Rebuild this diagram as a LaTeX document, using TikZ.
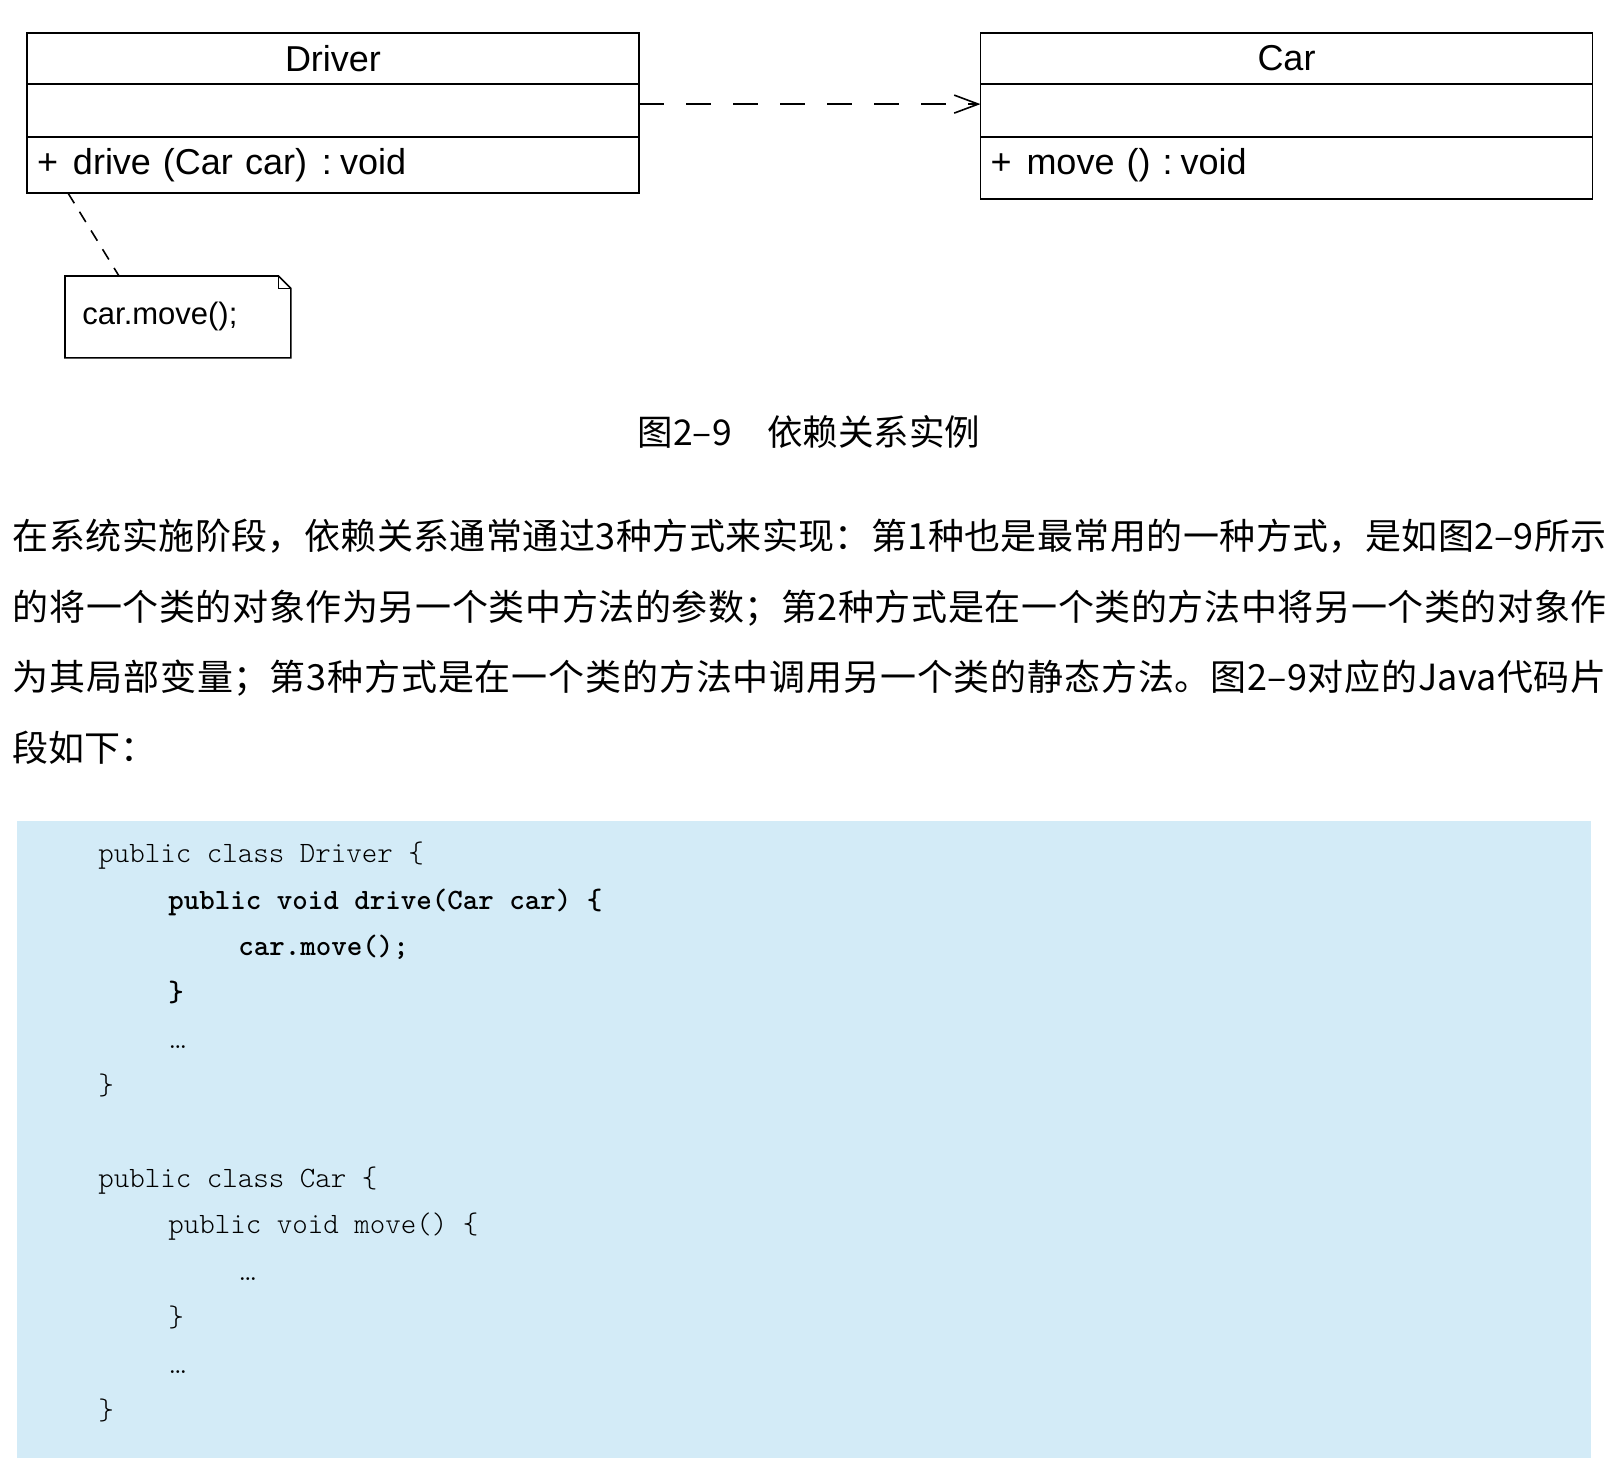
\documentclass[tikz,border=0pt]{standalone}
\usepackage{fontspec}
\newfontfamily\umlfont{Liberation Sans}
\newfontfamily\cjk{Noto Sans CJK SC}
\usetikzlibrary{positioning,arrows.meta}
\XeTeXlinebreaklocale "zh"
\XeTeXlinebreakskip=0pt plus 2pt
\definecolor{codebg}{RGB}{211,235,247}
\tikzset{
  umlpart/.style={draw, line width=0.8pt, minimum width=306pt, outer sep=0pt,
    inner sep=0pt, font=\umlfont\fontsize{18}{20}\selectfont},
  umlops/.style={umlpart, text width=296pt, inner xsep=5pt, align=left},
  notebox/.style={inner sep=0pt, inner xsep=8.5pt, text width=95.5pt,
    minimum height=40.5pt, align=left, font=\umlfont\fontsize{15.5}{17}\selectfont},
  depline/.style={line width=0.8pt, dash pattern=on 12.5pt off 11pt},
  noteline/.style={line width=0.8pt, dash pattern=on 6pt off 5pt},
  code/.style={anchor=base west, inner sep=0pt,
    font=\ttfamily\fontseries{l}\fontsize{14.76}{16}\selectfont},
  codebold/.style={code, font=\ttfamily\bfseries\fontsize{14.76}{16}\selectfont}
}

\begin{document}
\begin{tikzpicture}[x=0.5pt, y=-0.5pt]
  % PAGE
  \useasboundingbox (0,0) rectangle (1614,1458);

  % CLASS DRIVER
  \node[umlpart, minimum height=25.5pt] (drvname) at (333,58.5) {Driver};
  \node[umlpart, minimum height=26.5pt, below=0pt of drvname] (drvattr) {};
  \node[umlops, minimum height=28pt, below=0pt of drvattr] (drvops)
    {+\hspace{7.5pt}drive (Car car)\hspace{7.5pt}:\hspace{4pt}void};

  % CLASS CAR
  \node[umlpart, minimum height=25.5pt] (carname) at (1286.5,58.5) {Car};
  \node[umlpart, minimum height=26.5pt, below=0pt of carname] (carattr) {};
  \node[umlops, minimum height=31pt, text depth=6.5pt, below=0pt of carattr] (carops)
    {+\hspace{7.5pt}move () :\hspace{4pt}void};

  % dependency
  \draw[depline, -{Straight Barb[length=12pt, width=9pt]}]
    ([yshift=3.2pt]drvattr.east) -- ([yshift=3.2pt]carattr.west);

  % NOTE
  \node[notebox, anchor=north west] (note) at (65,276) {car.move();};
  \draw[line width=0.8pt] (note.north west) -- ([xshift=-6.2pt]note.north east)
    -- ([yshift=-6.2pt]note.north east) -- (note.south east)
    -- (note.south west) -- cycle;
  \draw[line width=0.8pt] ([xshift=-6.2pt]note.north east) |- ([yshift=-6.2pt]note.north east);
  \draw[noteline] ([xshift=20.5pt]drvops.south west) -- ([xshift=27pt]note.north west);

  % CAPTION
  \node[font=\cjk\fontsize{17.75}{20}\selectfont] (caption) at (809,432)
    {图2–9\quad 依赖关系实例};

  % TEXT
  \node[anchor=north west, inner sep=0pt, text width=797pt, align=justify,
    font=\cjk\fontsize{18}{35.2}\selectfont] (para) at (12.4,519)
    {在系统实施阶段，依赖关系通常通过3种方式来实现：第1种也是最常用的一种方式，是如图2–9所示\linebreak
     的将一个类的对象作为另一个类中方法的参数；第2种方式是在一个类的方法中将另一个类的对象作\linebreak
     为其局部变量；第3种方式是在一个类的方法中调用另一个类的静态方法。图2–9对应的Java代码片\linebreak
     段如下：};

  % CODE
  \fill[codebg] (17,821) rectangle (1591,1458);
  \node[code] (c1) at (98,862.6) {public class Driver \{};
  \node[codebold] (c2) at (168,909) {public void drive(Car car) \{};
  \node[codebold] (c3) at (238,955.4) {car.move();};
  \node[codebold] (c4) at (168,1001.8) {\}};
  \node[code] (c5) at (168,1048.2) {{\rmfamily\textellipsis}};
  \node[code] (c6) at (98,1094.6) {\}};
  \node[code] (c7) at (98,1187.4) {public class Car \{};
  \node[code] (c8) at (168,1233.8) {public void move() \{};
  \node[code] (c9) at (238,1280.2) {{\rmfamily\textellipsis}};
  \node[code] (c10) at (168,1326.6) {\}};
  \node[code] (c11) at (168,1373) {{\rmfamily\textellipsis}};
  \node[code] (c12) at (98,1419.4) {\}};
\end{tikzpicture}
\end{document}
